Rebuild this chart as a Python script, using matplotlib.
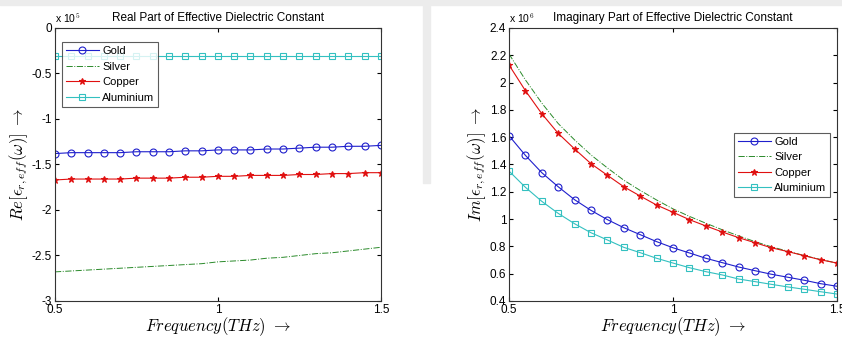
import matplotlib.pyplot as plt
import matplotlib.patches as mpatches
import numpy as np

plt.rcParams['font.family'] = ['Liberation Sans', 'DejaVu Sans']
plt.rcParams['mathtext.fontset'] = 'cm'

# frequency points (THz)
freq = np.arange(0.5, 1.5001, 0.05)

# real part, units of 1e5
re_gold = [-1.38, -1.37, -1.37, -1.37, -1.37, -1.36, -1.36, -1.36, -1.35, -1.35, -1.34,
           -1.34, -1.34, -1.33, -1.33, -1.32, -1.31, -1.31, -1.30, -1.30, -1.29]
re_silver = [-2.68, -2.67, -2.66, -2.65, -2.64, -2.63, -2.62, -2.61, -2.60, -2.59, -2.57,
             -2.56, -2.55, -2.53, -2.52, -2.50, -2.48, -2.47, -2.45, -2.43, -2.41]
re_copper = [-1.67, -1.66, -1.66, -1.66, -1.66, -1.65, -1.65, -1.65, -1.64, -1.64, -1.63,
             -1.63, -1.62, -1.62, -1.62, -1.61, -1.61, -1.60, -1.60, -1.59, -1.59]
re_alu = [-0.31] * 21

# imaginary part, units of 1e6
im_gold = [1.611, 1.467, 1.34, 1.237, 1.142, 1.064, 0.996, 0.937, 0.886, 0.835, 0.79,
           0.752, 0.713, 0.681, 0.649, 0.622, 0.596, 0.574, 0.552, 0.527, 0.508]
im_silver = [2.21, 2.02, 1.85, 1.70, 1.58, 1.47, 1.375, 1.285, 1.21, 1.14, 1.075,
             1.02, 0.97, 0.922, 0.877, 0.835, 0.797, 0.765, 0.733, 0.704, 0.678]
im_copper = [2.129, 1.941, 1.772, 1.628, 1.514, 1.406, 1.321, 1.237, 1.169, 1.103, 1.05,
             0.996, 0.95, 0.906, 0.864, 0.827, 0.79, 0.762, 0.732, 0.702, 0.678]
im_alu = [1.352, 1.233, 1.13, 1.042, 0.966, 0.9, 0.847, 0.793, 0.754, 0.713, 0.678,
          0.644, 0.615, 0.591, 0.561, 0.542, 0.522, 0.503, 0.486, 0.468, 0.451]

names = ['Gold', 'Silver', 'Copper', 'Aluminium']
blue = '#1f1fcc'
green = '#2a8a2a'
red = '#e01010'
cyan = '#33c0c0'

fig = plt.figure(figsize=(8.42, 3.38), dpi=100)
# screenshot background bits
fig.patches.append(mpatches.Rectangle((0.502, 0.46), 0.009, 0.54, transform=fig.transFigure,
                                      color='#ececec', zorder=0))
fig.patches.append(mpatches.Rectangle((0.0, 0.985), 1.0, 0.015, transform=fig.transFigure,
                                      color='#ececec', zorder=0))

ax1 = fig.add_axes([0.0653, 0.1095, 0.387, 0.8077])
ax2 = fig.add_axes([0.6045, 0.1095, 0.3895, 0.8077])


def style(ax):
    ax.tick_params(direction='in', top=True, right=True, labelsize=8.5, length=3, pad=2)
    for s in ax.spines.values():
        s.set_linewidth(0.8)
        s.set_color('#333333')
    ax.set_xlim(0.5, 1.5)
    ax.set_xticks([0.5, 1, 1.5])
    ax.set_xticklabels(['0.5', '1', '1.5'])
    ax.set_xlabel(r'$Frequency(THz)\ \rightarrow$', fontsize=12, labelpad=0)


def draw(ax, g, s, c, a):
    ax.plot(freq, g, '-o', color=blue, lw=0.8, ms=5, mfc='none', mew=0.8, label=names[0])
    ax.plot(freq, s, '-.', color=green, lw=0.7, label=names[1])
    ax.plot(freq, c, '-*', color=red, lw=0.8, ms=5, mew=0.8, label=names[2])
    ax.plot(freq, a, '-s', color=cyan, lw=0.8, ms=5, mfc='none', mew=0.8, label=names[3])


def legend(ax, loc, anchor):
    leg = ax.legend(loc=loc, fontsize=8, frameon=True, fancybox=False,
                    edgecolor='#333333', borderpad=0.35, labelspacing=0.5,
                    handlelength=3.0, handletextpad=0.3, borderaxespad=0,
                    bbox_to_anchor=anchor)
    leg.get_frame().set_linewidth(0.8)


draw(ax1, re_gold, re_silver, re_copper, re_alu)
style(ax1)
ax1.set_ylim(-3, 0)
ax1.set_yticks([0, -0.5, -1, -1.5, -2, -2.5, -3])
ax1.set_yticklabels(['0', '-0.5', '-1', '-1.5', '-2', '-2.5', '-3'])
ax1.set_ylabel(r'$Re[\epsilon_{r,eff}(\omega)]\ \rightarrow$', fontsize=12, labelpad=1)
ax1.set_title('Real Part of Effective Dielectric Constant', fontsize=8.5, pad=5)
ax1.text(0.0, 1.01, r'x 10$^5$', transform=ax1.transAxes, fontsize=7.5, va='bottom')
legend(ax1, 'upper left', (0.021, 0.948))

draw(ax2, im_gold, im_silver, im_copper, im_alu)
style(ax2)
ax2.set_ylim(0.4, 2.4)
ax2.set_yticks([0.4, 0.6, 0.8, 1, 1.2, 1.4, 1.6, 1.8, 2, 2.2, 2.4])
ax2.set_yticklabels(['0.4', '0.6', '0.8', '1', '1.2', '1.4', '1.6', '1.8', '2', '2.2', '2.4'])
ax2.set_ylabel(r'$Im[\epsilon_{r,eff}(\omega)]\ \rightarrow$', fontsize=12, labelpad=1)
ax2.set_title('Imaginary Part of Effective Dielectric Constant', fontsize=8.5, pad=5)
ax2.text(0.0, 1.01, r'x 10$^6$', transform=ax2.transAxes, fontsize=7.5, va='bottom')
legend(ax2, 'upper right', (0.98, 0.616))

plt.savefig('out.png', dpi=100)
